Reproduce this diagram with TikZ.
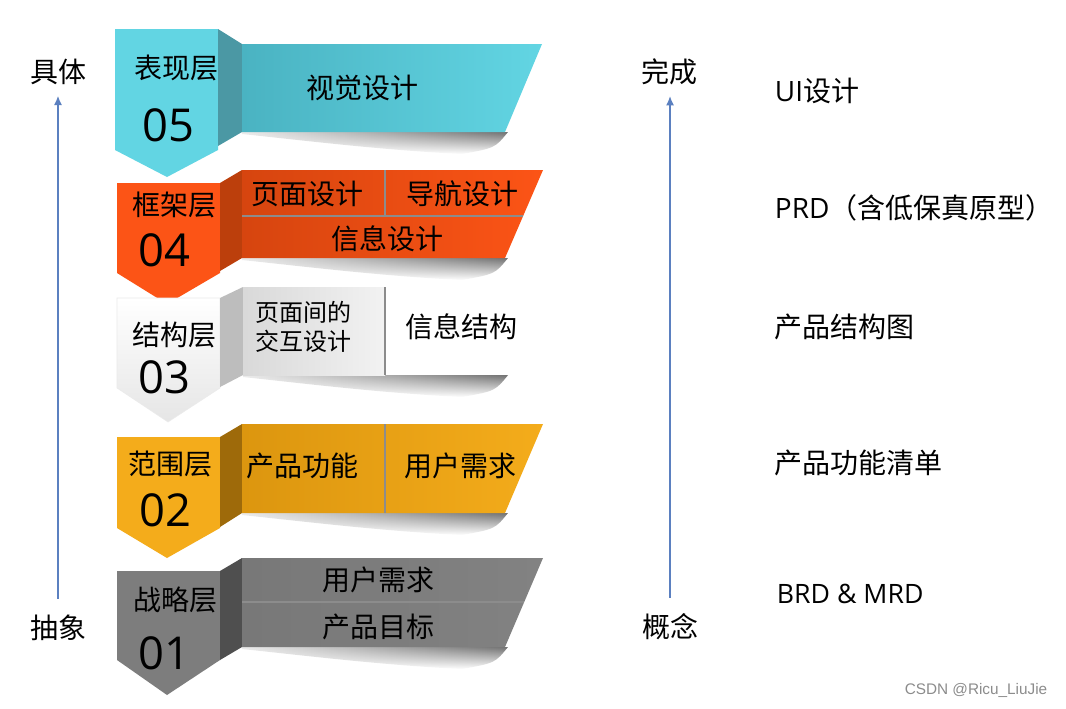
\documentclass[tikz,border=0pt]{standalone}
\usepackage{fontspec}
\setmainfont{Noto Sans CJK SC}
\newfontfamily\latinfont{Open Sans}
\newfontfamily\markfont{Liberation Sans}
\usepackage{xcolor}
\usepackage{tikz}
\usetikzlibrary{arrows.meta,fadings}
\definecolor{surface}{HTML}{62D5E3}
\definecolor{surfaceDark}{HTML}{4AB3C2}
\definecolor{surfaceSide}{HTML}{4B98A4}
\definecolor{skeleton}{HTML}{FC5416}
\definecolor{skeletonDark}{HTML}{D6450F}
\definecolor{skeletonSide}{HTML}{BC3F0C}
\definecolor{structureSide}{HTML}{BDBDBD}
\definecolor{scope}{HTML}{F4AC1B}
\definecolor{scopeDark}{HTML}{DC960F}
\definecolor{scopeSide}{HTML}{9E6A0A}
\definecolor{strategy}{HTML}{7D7D7D}
\definecolor{strategySide}{HTML}{4F4F4F}
\definecolor{axis}{HTML}{5B80C0}

\begin{document}
\begin{tikzpicture}[
  x=0.75pt, y=-0.75pt,
  lbl/.style={font=\fontsize{21}{25}\selectfont, inner sep=2pt},
  small/.style={font=\fontsize{18}{21.5}\selectfont, align=left, inner sep=2pt},
  num/.style={font=\latinfont\fontsize{34}{40}\selectfont, inner sep=2pt},
  sep/.style={draw=black!45, line width=0.8pt},
  band/.style={left color=black!8, right color=black!55, path fading=south},
  flow/.style={-{Latex[length=7pt,width=6pt]}, line width=1.1pt, axis}
]
  \fill[white] (0,0) rectangle (1066,708);
  \useasboundingbox (0,0) rectangle (1066,708);

  % shadows under the banners
  \shade[band] (242,132) -- (508,132) .. controls (495,148) .. (462,154) .. controls (380,150) and (300,140) .. (242,134) -- cycle;
  \shade[band] (242,258) -- (508,258) .. controls (495,274) .. (462,280) .. controls (380,276) and (300,266) .. (242,260) -- cycle;
  \shade[band] (243,375) -- (508,375) .. controls (495,391) .. (462,397) .. controls (380,393) and (300,383) .. (243,377) -- cycle;
  \shade[band] (242,513) -- (508,513) .. controls (495,529) .. (462,535) .. controls (380,531) and (300,521) .. (242,515) -- cycle;
  \shade[band] (242,647) -- (508,647) .. controls (495,663) .. (462,669) .. controls (380,665) and (300,655) .. (242,649) -- cycle;

  % 05 surface
  \fill[surface] (115,29) -- (218,29) -- (218,150) -- (167,177) -- (115,150) -- cycle;
  \fill[surfaceSide] (218,29) -- (242,44) -- (242,132) -- (218,146) -- cycle;
  \shade[left color=surfaceDark, right color=surface] (242,44) -- (542,44) -- (505,132) -- (242,132) -- cycle;

  % 04 skeleton
  \fill[skeleton] (117,183) -- (220,183) -- (220,273) -- (167,304) -- (117,273) -- cycle;
  \fill[skeletonSide] (220,183) -- (242,170) -- (242,258) -- (220,271) -- cycle;
  \shade[left color=skeletonDark, right color=skeleton] (242,170) -- (543,170) -- (505,258) -- (242,258) -- cycle;
  \draw[sep] (242,216) -- (523,216);
  \draw[sep] (385,170) -- (385,216);

  % 03 structure
  \shade[top color=white, bottom color=black!10, draw=black!8] (117,298) -- (220,298) -- (220,388) -- (168,422) -- (117,388) -- cycle;
  \fill[structureSide] (220,298) -- (243,287) -- (243,375) -- (220,387) -- cycle;
  \shade[left color=black!15, right color=black!5] (243,287) rectangle (385,375);
  \draw[sep] (385,287) -- (385,375);

  % 02 scope
  \fill[scope] (117,437) -- (220,437) -- (220,528) -- (167,558) -- (117,528) -- cycle;
  \fill[scopeSide] (220,437) -- (242,424) -- (242,513) -- (220,527) -- cycle;
  \shade[left color=scopeDark, right color=scope] (242,424) -- (543,424) -- (505,513) -- (242,513) -- cycle;
  \draw[sep] (385,424) -- (385,513);

  % 01 strategy
  \fill[strategy] (117,571) -- (220,571) -- (220,660) -- (167,695) -- (117,660) -- cycle;
  \fill[strategySide] (220,571) -- (242,558) -- (242,647) -- (220,660) -- cycle;
  \shade[left color=black!53, right color=black!49] (242,558) -- (543,558) -- (505,647) -- (242,647) -- cycle;
  \draw[sep] (242,602) -- (524,602);

  % layer texts
  \node[lbl] (surfaceName) at (176,68) {表现层};
  \node[num] (surfaceNum) at (168,125) {05};
  \node[lbl] (visual) at (362,88) {视觉设计};

  \node[lbl] (skeletonName) at (174,205) {框架层};
  \node[num] (skeletonNum) at (164,250) {04};
  \node[lbl] (pageDesign) at (307,194) {页面设计};
  \node[lbl] (navDesign) at (462,194) {导航设计};
  \node[lbl] (infoDesign) at (387,239) {信息设计};

  \node[lbl] (structureName) at (174,335) {结构层};
  \node[num] (structureNum) at (164,377) {03};
  \node[small] (interaction) at (303,327) {页面间的\\交互设计};
  \node[lbl] (infoArch) at (461,327) {信息结构};

  \node[lbl] (scopeName) at (170,464) {范围层};
  \node[num] (scopeNum) at (165,510) {02};
  \node[lbl] (features) at (302,466) {产品功能};
  \node[lbl] (needsA) at (460,466) {用户需求};

  \node[lbl] (strategyName) at (175,600) {战略层};
  \node[num] (strategyNum) at (164,653) {01};
  \node[lbl] (needsB) at (378,580) {用户需求};
  \node[lbl] (goals) at (378,627) {产品目标};

  % axes
  \node[lbl] (concrete) at (59,72) {具体};
  \node[lbl] (abstract) at (58,628) {抽象};
  \node[lbl] (done) at (669,72) {完成};
  \node[lbl] (concept) at (670,627) {概念};
  \draw[flow, shorten <=10pt, shorten >=6pt] (abstract.north) -- (abstract.north |- concrete.south);
  \draw[flow, shorten <=10pt, shorten >=6pt] (concept.north) -- (concept.north |- done.south);

  % deliverables
  \node[lbl, anchor=west] (ui) at (772,91) {{\latinfont UI}设计};
  \node[lbl, anchor=west] (prd) at (772,208) {{\latinfont PRD}（含低保真原型）};
  \node[lbl, anchor=west] (structureMap) at (772,327) {产品结构图};
  \node[lbl, anchor=west] (featureList) at (772,463) {产品功能清单};
  \node[lbl, anchor=west, font=\latinfont\fontsize{20}{24}\selectfont] (brd) at (774,594) {BRD \& MRD};

  \node[anchor=east, text=black!45, font=\markfont\fontsize{11.5}{13}\selectfont] (mark) at (1052,690) {CSDN @Ricu\_LiuJie};
\end{tikzpicture}
\end{document}
